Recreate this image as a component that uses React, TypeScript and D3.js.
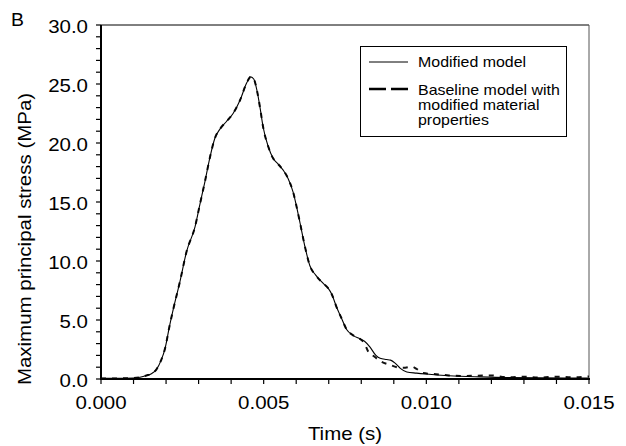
import React from "react";
import * as d3 from "d3";

// time in ms, stress in MPa
const solidT = [0, 0.5, 1.0, 1.2, 1.4, 1.55, 1.7, 1.85, 1.97, 2.1, 2.22, 2.43, 2.63, 2.89, 3.04, 3.2, 3.35, 3.5, 3.66, 3.85, 4.06, 4.27, 4.48, 4.6, 4.7, 4.79, 4.9, 4.98, 5.14, 5.29, 5.45, 5.6, 5.75, 5.91, 6.02, 6.12, 6.27, 6.42, 6.6, 6.83, 6.98, 7.09, 7.24, 7.4, 7.55, 7.75, 7.96, 8.1, 8.27, 8.45, 8.58, 8.78, 8.9, 9.04, 9.2, 9.4, 9.7, 10.0, 10.7, 11.65, 12.5, 13.5, 15.0];
const solidV = [0.05, 0.05, 0.08, 0.15, 0.3, 0.45, 0.8, 1.6, 2.6, 4.4, 5.9, 8.3, 10.8, 12.9, 14.8, 16.8, 18.8, 20.4, 21.2, 21.8, 22.5, 23.6, 25.1, 25.6, 25.4, 24.5, 22.8, 21.4, 19.7, 18.7, 18.2, 17.7, 17.0, 15.8, 14.5, 13.2, 11.2, 9.6, 8.8, 8.1, 7.7, 7.2, 6.1, 5.1, 4.2, 3.7, 3.4, 3.2, 2.7, 2.0, 1.75, 1.65, 1.6, 1.35, 0.9, 0.6, 0.5, 0.42, 0.28, 0.18, 0.12, 0.1, 0.08];

const dashT = [0, 0.5, 1.0, 1.2, 1.4, 1.55, 1.7, 1.85, 1.97, 2.1, 2.22, 2.43, 2.63, 2.89, 3.04, 3.2, 3.35, 3.5, 3.66, 3.85, 4.06, 4.27, 4.48, 4.6, 4.7, 4.79, 4.9, 4.98, 5.14, 5.29, 5.45, 5.6, 5.75, 5.91, 6.02, 6.12, 6.27, 6.42, 6.6, 6.83, 6.98, 7.09, 7.24, 7.4, 7.55, 7.75, 7.96, 8.1, 8.2, 8.4, 8.6, 8.88, 9.1, 9.3, 9.55, 9.7, 9.9, 10.3, 10.7, 11.2, 11.5, 12.0, 12.5, 13.0, 13.5, 14.0, 14.5, 15.0];
const dashV = [0.05, 0.05, 0.08, 0.15, 0.3, 0.45, 0.8, 1.6, 2.6, 4.4, 5.9, 8.3, 10.8, 12.9, 14.8, 16.8, 18.8, 20.4, 21.2, 21.8, 22.5, 23.6, 25.1, 25.6, 25.4, 24.5, 22.8, 21.4, 19.7, 18.7, 18.2, 17.7, 17.0, 15.8, 14.5, 13.2, 11.2, 9.6, 8.8, 8.1, 7.7, 7.2, 6.1, 5.1, 4.2, 3.7, 3.4, 3.0, 2.4, 1.9, 1.5, 1.2, 1.0, 0.95, 1.05, 0.85, 0.5, 0.4, 0.3, 0.25, 0.28, 0.3, 0.15, 0.2, 0.12, 0.2, 0.15, 0.22];

const xMajor = [0, 0.005, 0.01, 0.015];
const xLabels = ["0.000", "0.005", "0.010", "0.015"];
const yMajor = [0, 5, 10, 15, 20, 25, 30];
const yLabels = ["0.0", "5.0", "10.0", "15.0", "20.0", "25.0", "30.0"];
const legendLines = ["Baseline model with", "modified material", "properties"];

const FONT = "'Liberation Sans', Arial, sans-serif";
const SX = 1.17;
const LSX = 1.14;

export default function App() {
  const W = 626, H = 446;
  const L = 101, R = 589, T = 25, B = 379;
  const x = d3.scaleLinear().domain([0, 0.015]).range([L, R]);
  const y = d3.scaleLinear().domain([0, 30]).range([B, T]);
  const line = d3.line<[number, number]>()
    .x(d => x(d[0] / 1000))
    .y(d => y(d[1]))
    .curve(d3.curveMonotoneX);
  const solid = line(solidT.map((t, i) => [t, solidV[i]]) as [number, number][]) || "";
  const dashed = line(dashT.map((t, i) => [t, dashV[i]]) as [number, number][]) || "";
  const xMinor = d3.range(0, 16).map(i => i * 0.001);
  const yMinor = d3.range(0, 31);

  return (
    <svg width={W} height={H} style={{ position: "absolute", left: 0, top: 0, background: "#fff" }} fontFamily={FONT}>
      <rect x={0} y={0} width={W} height={H} fill="#fff" />
      <text transform={`translate(11,26) scale(1.08,1)`} fontSize={18}>B</text>
      {/* frame */}
      <line x1={L} x2={R} y1={T} y2={T} stroke="#000" strokeWidth={1} />
      <line x1={R} x2={R} y1={T} y2={B} stroke="#555" strokeWidth={1} />
      {/* curves */}
      <path d={dashed} fill="none" stroke="#111" strokeWidth={2} strokeDasharray="5,6" />
      <path d={solid} fill="none" stroke="#000" strokeWidth={1.1} />
      {/* axes */}
      <line x1={L} x2={L} y1={T} y2={B + 1} stroke="#000" strokeWidth={2} />
      <line x1={L - 1} x2={R + 1} y1={B} y2={B} stroke="#000" strokeWidth={2} />
      {xMinor.map((v, i) => (
        <line key={"xm" + i} x1={x(v)} x2={x(v)} y1={B} y2={B + 5} stroke="#000" strokeWidth={1.2} />
      ))}
      {yMinor.map((v, i) => (
        <line key={"ym" + i} x1={L - 5} x2={L} y1={y(v)} y2={y(v)} stroke="#000" strokeWidth={1.2} />
      ))}
      {xMajor.map((v, i) => (
        <text key={"xl" + i} transform={`translate(${x(v)},409) scale(${SX},1)`} fontSize={17.5} textAnchor="middle">{xLabels[i]}</text>
      ))}
      {yMajor.map((v, i) => (
        <text key={"yl" + i} transform={`translate(88,${y(v) + 8}) scale(${SX},1)`} fontSize={17.5} textAnchor="end">{yLabels[i]}</text>
      ))}
      <text transform={`translate(${(L + R) / 2},440) scale(${SX},1)`} fontSize={17.5} textAnchor="middle">Time (s)</text>
      <text transform={`translate(31,239) rotate(-90) scale(${SX},1)`} fontSize={17.5} textAnchor="middle">Maximum principal stress (MPa)</text>
      {/* legend */}
      <rect x={360.5} y={46.5} width={206} height={90} fill="#fff" stroke="#000" strokeWidth={1} />
      <line x1={369} x2={408} y1={62} y2={62} stroke="#000" strokeWidth={1} />
      <text transform={`translate(418,67) scale(${LSX},1)`} fontSize={14}>Modified model</text>
      <line x1={369} x2={408} y1={89} y2={89} stroke="#000" strokeWidth={2.6} strokeDasharray="17,5" />
      {legendLines.map((s, i) => (
        <text key={"lg" + i} transform={`translate(418,${95 + i * 15}) scale(${LSX},1)`} fontSize={14}>{s}</text>
      ))}
    </svg>
  );
}
